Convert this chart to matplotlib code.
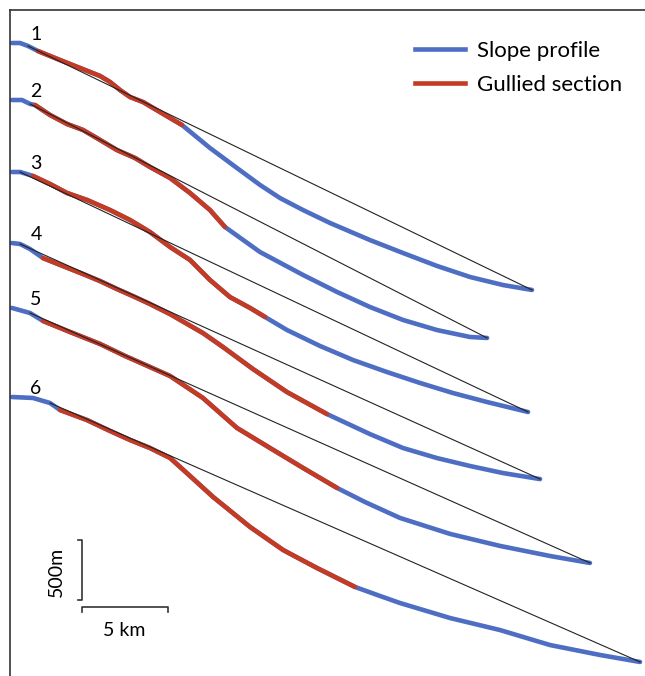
import matplotlib
matplotlib.use("Agg")
import matplotlib.pyplot as plt
import numpy as np

plt.rcParams['font.family'] = ['Lato', 'DejaVu Sans']

# distance along profile (km) and elevation below profile head (m)
dist_1 = [0, 0.47, 0.93, 1.51, 2.79, 3.95, 5.12, 5.70, 6.28, 6.86, 7.62, 8.60, 9.88,
          11.51, 13.08, 14.42, 15.58, 16.92, 18.49, 20.81, 22.73, 24.71, 26.63,
          28.55, 30.23]
elev_1 = [0, 0, -25, -67, -142, -208, -275, -325, -392, -450, -492, -575, -683,
          -875, -1042, -1183, -1292, -1392, -1500, -1642, -1750, -1858, -1950,
          -2017, -2058]

dist_2 = [0, 0.58, 1.05, 1.34, 2.21, 3.20, 4.13, 5.12, 6.10, 7.15, 8.02, 9.19, 10.35,
          11.51, 12.38, 14.42, 16.92, 18.90, 20.81, 22.73, 24.71, 26.63, 27.62]
elev_2 = [0, 0, -33, -42, -125, -200, -250, -333, -417, -483, -558, -650, -775,
          -917, -1058, -1267, -1458, -1600, -1725, -1833, -1917, -1975, -1983]

dist_3 = [0, 0.47, 1.22, 2.21, 3.20, 4.36, 5.70, 6.86, 8.02, 9.19, 10.35, 11.51,
          12.67, 13.84, 14.71, 15.99, 17.91, 19.83, 21.80, 23.72, 25.64, 27.62, 30.00]
elev_3 = [0, 0, -33, -100, -175, -233, -317, -400, -500, -625, -733, -900,
          -1042, -1133, -1208, -1317, -1450, -1567, -1667, -1758, -1842, -1917, -2000]

dist_4 = [0, 0.47, 1.05, 1.80, 2.97, 4.13, 5.12, 6.10, 7.15, 8.02, 9.19, 11.10,
          12.27, 14.01, 15.99, 18.31, 20.81, 22.73, 24.71, 26.63, 28.55, 30.70]
elev_4 = [0, -8, -50, -125, -192, -258, -317, -383, -450, -508, -592, -750,
          -867, -1050, -1242, -1425, -1592, -1708, -1792, -1858, -1917, -1967]

dist_5 = [0, 1.05, 1.80, 3.37, 5.12, 6.57, 8.02, 9.19, 11.10, 13.08, 15.00, 16.92,
          18.90, 20.52, 22.56, 25.47, 28.37, 31.28, 33.60]
elev_5 = [0, -42, -108, -200, -300, -400, -492, -567, -750, -1000, -1167, -1333,
          -1500, -1617, -1750, -1883, -1983, -2067, -2125]

dist_6 = [0, 1.22, 2.21, 2.79, 4.36, 5.70, 6.86, 8.02, 9.19, 10.35, 11.69, 13.84,
          15.76, 17.73, 19.94, 21.57, 22.56, 25.47, 28.37, 31.28, 34.19, 36.51]
elev_6 = [0, -8, -50, -108, -192, -283, -358, -425, -508, -658, -833, -1083,
          -1275, -1425, -1583, -1667, -1717, -1842, -1942, -2067, -2150, -2208]

profiles = [(dist_1, elev_1), (dist_2, elev_2), (dist_3, elev_3),
            (dist_4, elev_4), (dist_5, elev_5), (dist_6, elev_6)]
labels = ['1', '2', '3', '4', '5', '6']
# gullied section (start km, end km) per profile
gully_start = [1.51, 1.34, 1.22, 1.80, 1.80, 2.79]
gully_end = [9.88, 12.38, 14.71, 18.31, 18.90, 19.94]
# distance where the straight reference line leaves the profile
chord_start = [0.93, 1.05, 0.47, 0.47, 1.05, 2.21]
# vertical stacking offset of each profile (m)
offsets = [-275, -750, -1350, -1942, -2483, -3225]

blue = '#4e6ec4'
red = '#c53a22'

fig = plt.figure(figsize=(6.45, 6.76), dpi=100)
ax = fig.add_axes([9.5 / 645, 0, 1 - 9.5 / 645, 666 / 676])

for (d, e), lab, g0, g1, c0, off in zip(profiles, labels, gully_start, gully_end,
                                         chord_start, offsets):
    d = np.array(d)
    y = np.array(e) + off
    ax.plot(d, y, color=blue, lw=3.3, solid_capstyle='round', solid_joinstyle='round', zorder=2)
    m = (d >= g0) & (d <= g1)
    ax.plot(d[m], y[m], color=red, lw=3.3, solid_capstyle='round', solid_joinstyle='round', zorder=3)
    i0 = int(np.argmin(abs(d - c0)))
    ax.plot([d[i0], d[-1]], [y[i0], y[-1]], color='#222222', lw=0.8, zorder=4)
    ax.text(1.4, off + 25, lab, fontsize=14, ha='center', va='baseline')

# scale bars
ax.plot([3.85, 4.07, 4.07, 3.85], [-4417, -4417, -4917, -4917], color='#333333', lw=1.2)
ax.text(2.56, -4683, '500m', rotation=90, fontsize=14, ha='center', va='center')
ax.plot([4.07, 4.07, 9.07, 9.07], [-5017, -4975, -4975, -5017], color='#333333', lw=1.2)
ax.text(6.51, -5167, '5 km', fontsize=14, ha='center', va='center')

# legend
ax.plot([], [], color=blue, lw=3.3, label='Slope profile')
ax.plot([], [], color=red, lw=3.3, label='Gullied section')
h, l = ax.get_legend_handles_labels()
ax.legend(h[-2:], l[-2:], loc='upper left', bbox_to_anchor=(0.638, 0.954), frameon=False,
          fontsize=16, handlelength=2.25, handletextpad=0.54, labelspacing=0.63,
          borderpad=0, borderaxespad=0)

ax.set_xlim(-0.145, 36.8)
ax.set_ylim(-5550, 0)
ax.set_xticks([])
ax.set_yticks([])
for s in ['right', 'bottom']:
    ax.spines[s].set_visible(False)
for s in ['top', 'left']:
    ax.spines[s].set_color('#333333')
    ax.spines[s].set_linewidth(1.2)

fig.savefig('out.png', dpi=100)
